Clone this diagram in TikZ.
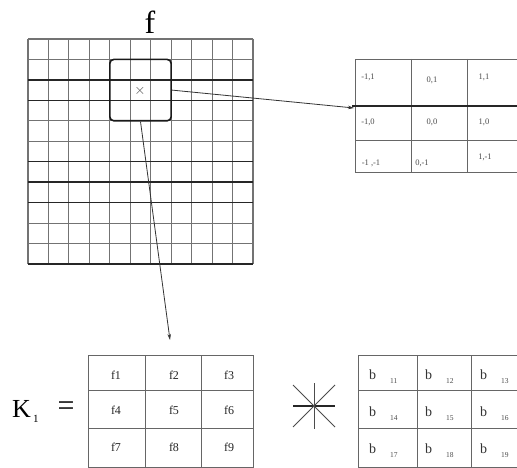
\documentclass[tikz,border=0pt]{standalone}
\usepackage{fontspec}
\setmainfont{Liberation Serif}
\usetikzlibrary{arrows.meta}
\begin{document}
\begin{tikzpicture}[x=1pt,y=-1pt,
  gridline/.style={draw=black!55, line width=1.1pt},
  thickline/.style={draw=black!85, line width=1.6pt},
  tabline/.style={draw=black!60, line width=1pt},
  frame/.style={draw=black!60, line width=1pt, anchor=north west, inner sep=0pt},
  small/.style={font=\fontsize{8.5}{9}\selectfont, inner sep=0pt, text=black!70},
  fcell/.style={font=\fontsize{12}{13}\selectfont, inner sep=0pt, text=black!85},
  bcell/.style={font=\fontsize{14}{15}\selectfont, inner sep=0pt, anchor=base west, text=black!80},
  sub/.style={font=\fontsize{7.5}{8}\selectfont, inner sep=0pt, anchor=base west, text=black!70},
  link/.style={draw=black!80, line width=0.8pt, -{Stealth[length=6pt,width=3.5pt]}},
]
\useasboundingbox (0,0) rectangle (517,468);
\fill[white] (0,0) rectangle (517,468);

% title
\node[font=\fontsize{32}{34}\selectfont, inner sep=0pt] (ftitle) at (150,22) {f};

% grid
\foreach \i in {0,...,11} {
  \draw[gridline] ({28+\i*20.45},39) -- ({28+\i*20.45},264);
  \draw[gridline] (28,{39+\i*20.45}) -- (253,{39+\i*20.45});
}
\foreach \i in {2,3,6,7,8,11} {
  \draw[thickline] (28,{39+\i*20.45}) -- (253,{39+\i*20.45});
}

% window
\node[draw=black!90, line width=1.6pt, rounded corners=4pt, minimum width=61.35pt, minimum height=61.35pt] (win) at (140.5,90.1) {};
\node[font=\fontsize{14}{14}\selectfont, text=black!70, inner sep=0pt] (cross) at (140,91) {$\times$};

% right offset table
\node[frame, minimum width=168pt, minimum height=113pt] (rt) at (355,59) {};
\draw[tabline] (411,59) -- (411,172);
\draw[tabline] (467,59) -- (467,172);
\draw[tabline] (355,141) -- (523,141);
\draw[thickline] (352,106) -- (523,106);
\node[small] (r11) at (368,77) {-1,1};
\node[small] (r12) at (432,80) {0,1};
\node[small] (r13) at (484,77) {1,1};
\node[small] (r21) at (368,122) {-1,0};
\node[small] (r22) at (432,122) {0,0};
\node[small] (r23) at (484,122) {1,0};
\node[small] (r31) at (371,163) {-1 ,-1};
\node[small] (r32) at (422,163) {0,-1};
\node[small] (r33) at (485,157) {1,-1};

% K1 label
\node[font=\fontsize{26}{28}\selectfont, inner sep=0pt, anchor=base west] (klab) at (12,417) {K};
\node[font=\fontsize{11}{12}\selectfont, inner sep=0pt, anchor=base west] (ksub) at (33,422) {1};
\node[font=\fontsize{30}{30}\selectfont, inner sep=0pt] (eq) at (66,409) {=};

% K1 table
\node[frame, minimum width=165pt, minimum height=112pt] (kt) at (88,355) {};
\draw[tabline] (145,355) -- (145,467);
\draw[tabline] (201,355) -- (201,467);
\draw[tabline] (88,390) -- (253,390);
\draw[tabline] (88,428) -- (253,428);
\node[fcell] (k1) at (116,375) {f1};
\node[fcell] (k2) at (174,375) {f2};
\node[fcell] (k3) at (229,375) {f3};
\node[fcell] (k4) at (116,410) {f4};
\node[fcell] (k5) at (174,410) {f5};
\node[fcell] (k6) at (229,410) {f6};
\node[fcell] (k7) at (116,447) {f7};
\node[fcell] (k8) at (174,447) {f8};
\node[fcell] (k9) at (229,447) {f9};

% convolution star
\coordinate (st) at (314,406);
\draw[draw=black!85, line width=1.4pt] (293,406) -- (335,406);
\draw[draw=black!70, line width=0.9pt] (314,383) -- (314,429);
\draw[draw=black!70, line width=0.9pt] (293,385) -- (335,427);
\draw[draw=black!70, line width=0.9pt] (293,427) -- (335,385);

% b table
\node[frame, minimum width=168pt, minimum height=112pt] (bt) at (358,355) {};
\draw[tabline] (417,355) -- (417,467);
\draw[tabline] (471,355) -- (471,467);
\draw[tabline] (358,390) -- (526,390);
\draw[tabline] (358,428) -- (526,428);
\foreach \r/\y in {0/379,1/416,2/453} {
  \foreach \c/\x in {0/369,1/425,2/480} {
    \pgfmathtruncatemacro{\n}{11+3*\r+\c}
    \node[bcell] (b\r\c) at (\x,\y) {b};
    \node[sub] (s\r\c) at (\x+21,\y+4) {\n};
  }
}

% connectors
\coordinate (a1) at (354,108);
\coordinate (a2) at (170,340);
\draw[link] (win.east) -- (a1);
\draw[link] (win.south) -- (a2);
\end{tikzpicture}
\end{document}
